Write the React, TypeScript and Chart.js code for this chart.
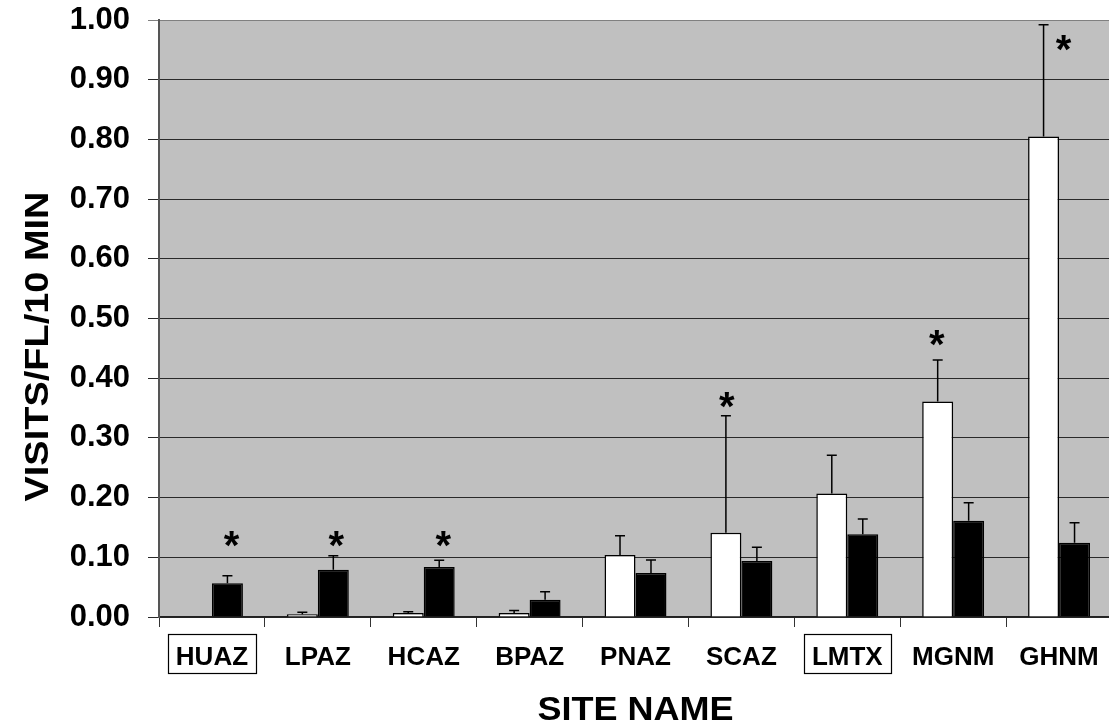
import React, { useEffect, useRef } from "react";
import { Chart, registerables } from "chart.js";

Chart.register(...registerables);

// Site codes along the category axis
const sites = ["HUAZ", "LPAZ", "HCAZ", "BPAZ", "PNAZ", "SCAZ", "LMTX", "MGNM", "GHNM"];

// Open (white) bars: mean visits and upper error
const whiteMeans = [0.001, 0.0045, 0.0067, 0.0067, 0.104, 0.141, 0.207, 0.361, 0.805];
const whiteErrors = [0, 0.0034, 0.0022, 0.0043, 0.032, 0.196, 0.064, 0.0695, 0.187];

// Filled (black) bars: mean visits and upper error
const blackMeans = [0.0565, 0.079, 0.0838, 0.029, 0.0737, 0.0938, 0.1385, 0.1614, 0.1245];
const blackErrors = [0.0125, 0.0237, 0.0112, 0.0134, 0.0218, 0.0232, 0.0255, 0.03, 0.0335];

// Value axis ticks
const yTicks = [0, 0.1, 0.2, 0.3, 0.4, 0.5, 0.6, 0.7, 0.8, 0.9, 1.0];

// Sites whose label is framed
const boxedSites = ["HUAZ", "LMTX"];

// Significance markers: site, series (0 = white, 1 = black), height on the value axis
const starSites = ["HUAZ", "LPAZ", "HCAZ", "SCAZ", "MGNM", "GHNM"];
const starSeries = [1, 1, 1, 0, 0, 0];
const starLevels = [0.13, 0.13, 0.13, 0.3635, 0.468, 0.961];

const FONT = '"Liberation Sans", Arial, Helvetica, sans-serif';

const plotBackground = {
  id: "plotBackground",
  beforeDraw(chart: any) {
    const { ctx, chartArea } = chart;
    ctx.save();
    ctx.fillStyle = "#c0c0c0";
    ctx.fillRect(chartArea.left, chartArea.top, chartArea.right - chartArea.left, chartArea.bottom - chartArea.top);
    ctx.restore();
  },
};

const errorBars = {
  id: "errorBars",
  afterDatasetsDraw(chart: any) {
    const { ctx } = chart;
    const yScale = chart.scales.y;
    ctx.save();
    ctx.strokeStyle = "#000";
    ctx.lineWidth = 1.5;
    chart.data.datasets.forEach((ds: any, d: number) => {
      const meta = chart.getDatasetMeta(d);
      meta.data.forEach((bar: any, i: number) => {
        const err = ds.errors[i];
        if (!err) return;
        const yTop = yScale.getPixelForValue(ds.data[i] + err);
        ctx.beginPath();
        ctx.moveTo(bar.x, bar.y);
        ctx.lineTo(bar.x, yTop);
        ctx.moveTo(bar.x - 5, yTop);
        ctx.lineTo(bar.x + 5, yTop);
        ctx.stroke();
      });
    });
    ctx.restore();
  },
};

const annotations = {
  id: "annotations",
  afterDraw(chart: any, _args: any, opts: any) {
    const { ctx, chartArea } = chart;
    const xScale = chart.scales.x;
    const yScale = chart.scales.y;
    ctx.save();

    // asterisks
    ctx.fillStyle = "#000";
    ctx.font = `bold 40px ${FONT}`;
    ctx.textAlign = "center";
    ctx.textBaseline = "alphabetic";
    starSites.forEach((site, k) => {
      const i = sites.indexOf(site);
      const bar = chart.getDatasetMeta(starSeries[k]).data[i];
      const m = ctx.measureText("*");
      const cy = yScale.getPixelForValue(starLevels[k]);
      const x = bar.x + (opts.starShift[k] || 0);
      ctx.fillText("*", x, cy + (m.actualBoundingBoxAscent - m.actualBoundingBoxDescent) / 2);
    });

    // frames around selected site labels
    ctx.font = `bold 26px ${FONT}`;
    ctx.strokeStyle = "#000";
    ctx.lineWidth = 1.2;
    boxedSites.forEach((site) => {
      const i = sites.indexOf(site);
      const x = xScale.getPixelForTick(i);
      const w = ctx.measureText(site).width + 16;
      ctx.strokeRect(Math.round(x - w / 2) + 0.5, 634.5, Math.round(w), 39);
    });

    // value axis title
    ctx.save();
    ctx.font = `bold 33px ${FONT}`;
    ctx.textAlign = "center";
    const yt = "VISITS/FL/10 MIN";
    const ym = ctx.measureText(yt);
    ctx.translate(36.5, (chartArea.top + chartArea.bottom) / 2 + 28);
    ctx.rotate(-Math.PI / 2);
    ctx.scale(1.15, 1);
    ctx.fillText(yt, 0, (ym.actualBoundingBoxAscent - ym.actualBoundingBoxDescent) / 2);
    ctx.restore();

    // category axis title
    ctx.save();
    ctx.font = `bold 34px ${FONT}`;
    ctx.textAlign = "center";
    const xt = "SITE NAME";
    const xm = ctx.measureText(xt);
    ctx.translate((chartArea.left + chartArea.right) / 2, 708);
    ctx.scale(1.06, 1);
    ctx.fillText(xt, 0, (xm.actualBoundingBoxAscent - xm.actualBoundingBoxDescent) / 2);
    ctx.restore();

    ctx.restore();
  },
};

export default function App() {
  const canvasRef = useRef<HTMLCanvasElement | null>(null);

  useEffect(() => {
    const canvas = canvasRef.current;
    if (!canvas) return;
    const chart = new Chart(canvas, {
      type: "bar",
      data: {
        labels: sites,
        datasets: [
          {
            data: whiteMeans,
            errors: whiteErrors,
            backgroundColor: "#ffffff",
            borderColor: "#000000",
            borderWidth: 1.5,
          } as any,
          {
            data: blackMeans,
            errors: blackErrors,
            backgroundColor: "#000000",
            borderColor: "#000000",
            borderWidth: 1.5,
          } as any,
        ],
      },
      options: {
        responsive: false,
        animation: false,
        devicePixelRatio: 1,
        layout: { padding: { top: 20, right: 8, left: 0, bottom: 0 } },
        datasets: { bar: { categoryPercentage: 0.585, barPercentage: 1 } },
        plugins: {
          legend: { display: false },
          tooltip: { enabled: false },
          annotations: { starShift: [4, 3, 4, 1, -1, 20] },
        } as any,
        scales: {
          x: {
            grid: {
              display: true,
              drawOnChartArea: false,
              drawTicks: true,
              tickLength: 10,
              offset: true,
              color: "#333",
              lineWidth: 1,
            },
            border: { color: "#222", width: 1.5 },
            ticks: {
              color: "#000",
              font: { family: FONT, size: 26, weight: "bold" },
              padding: 15,
              maxRotation: 0,
              autoSkip: false,
            },
            afterFit: (s: any) => {
              s.height = 110;
              s.paddingLeft = 0;
              s.paddingRight = 0;
            },
          },
          y: {
            min: 0,
            max: 1,
            afterBuildTicks: (s: any) => {
              s.ticks = yTicks.map((v) => ({ value: v }));
            },
            grid: {
              color: (c: any) => (c.tick && c.tick.value === 1 ? "#808080" : "#2a2a2a"),
              lineWidth: 1,
              tickLength: 11,
            },
            border: { color: "#555", width: 2 },
            ticks: {
              color: "#000",
              font: { family: FONT, size: 31, weight: "bold" },
              padding: 18,
              callback: (v: any) => Number(v).toFixed(2),
            },
            afterFit: (s: any) => {
              s.width = 159;
              s.paddingTop = 0;
              s.paddingBottom = 0;
            },
          },
        },
      } as any,
      plugins: [plotBackground, errorBars, annotations],
    });
    return () => chart.destroy();
  }, []);

  return (
    <div
      style={{
        position: "fixed",
        left: 0,
        top: 0,
        width: 1109,
        height: 727,
        overflow: "hidden",
        background: "#fff",
      }}
    >
      <canvas ref={canvasRef} width={1120} height={727} style={{ display: "block" }} />
    </div>
  );
}
